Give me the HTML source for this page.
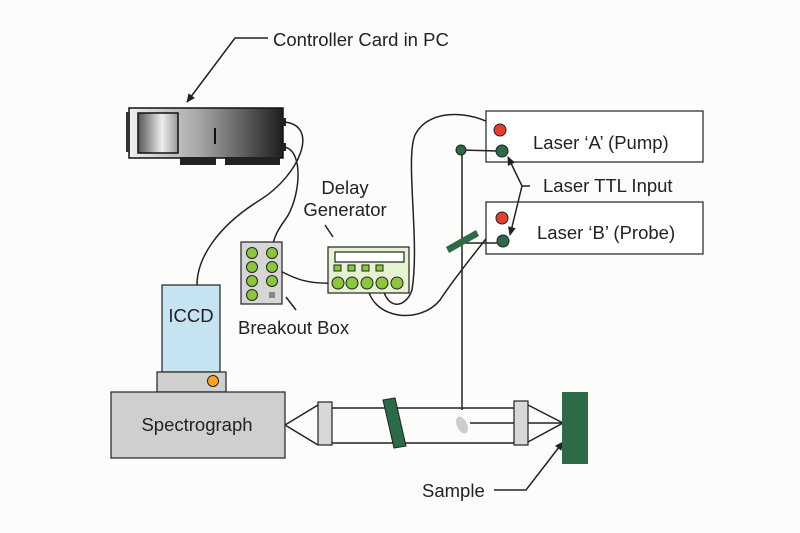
<!DOCTYPE html>
<html><head><meta charset="utf-8"><style>
html,body{margin:0;padding:0;background:#fcfcfa;}
svg{display:block;font-family:"Liberation Sans",sans-serif;}
</style></head><body>
<svg width="800" height="533" viewBox="0 0 800 533" xmlns="http://www.w3.org/2000/svg">
<defs>
<linearGradient id="card" x1="0" x2="1" y1="0" y2="0">
<stop offset="0" stop-color="#f0f0f0"/><stop offset="0.45" stop-color="#a8a8a8"/><stop offset="1" stop-color="#1e1e1e"/>
</linearGradient>
<linearGradient id="win" x1="0" x2="1"><stop offset="0" stop-color="#555"/><stop offset="0.6" stop-color="#eee"/><stop offset="1" stop-color="#999"/></linearGradient>
<marker id="ah" markerWidth="10" markerHeight="10" refX="8" refY="5" orient="auto" markerUnits="userSpaceOnUse"><path d="M0,1 L9,5 L0,9 z" fill="#222"/></marker>
</defs>
<rect width="800" height="533" fill="#fcfcfa"/>
<g fill="none" stroke="#222" stroke-width="1.5">
<path d="M268,38 L235,38 L187,102" marker-end="url(#ah)"/>
<path d="M284,122 C320,125 300,175 260,200 C215,228 197,260 197,285"/>
<path d="M284,147 C305,150 300,200 285,220 C276,232 272,242 272,253"/>
<path d="M272,267 C290,275 300,285 338,283"/>
<path d="M367,283 C370,320 420,325 440,300 C460,270 478,250 502,218"/>
<path d="M382,283 C385,310 405,310 412,290 C420,240 405,160 415,135 C430,105 480,112 500,130"/>
<path d="M462,150 L462,410"/>
<path d="M285,425 L318,405 M285,425 L318,445"/>
<path d="M332,408 L515,408 M332,443 L515,443"/>
<path d="M528,405 L563,423 L528,442"/>
<path d="M470,423 L563,423"/>
<path d="M494,490 L526,490 L563,442" marker-end="url(#ah)"/>
<path d="M325,225 L333,237"/>
<path d="M286,297 L296,310"/>
</g>
<rect x="129" y="108" width="154" height="50" fill="url(#card)" stroke="#111" stroke-width="1.5"/>
<rect x="138" y="113" width="40" height="40" fill="url(#win)" stroke="#111" stroke-width="1.5"/>
<rect x="180" y="157" width="36" height="8" fill="#222"/>
<rect x="225" y="157" width="55" height="8" fill="#222"/>
<rect x="126" y="112" width="4" height="40" fill="#333"/>
<line x1="215" y1="128" x2="215" y2="144" stroke="#111" stroke-width="2"/>
<rect x="282" y="118" width="4" height="8" fill="#222"/><rect x="282" y="143" width="4" height="8" fill="#222"/>
<rect x="241" y="242" width="41" height="62" fill="#d6d6d6" stroke="#222" stroke-width="1.2"/>
<g fill="#8cc63f" stroke="#222" stroke-width="1">
<circle cx="252" cy="253" r="5.5"/><circle cx="272" cy="253" r="5.5"/>
<circle cx="252" cy="267" r="5.5"/><circle cx="272" cy="267" r="5.5"/>
<circle cx="252" cy="281" r="5.5"/><circle cx="272" cy="281" r="5.5"/>
<circle cx="252" cy="295" r="5.5"/>
</g>
<rect x="269" y="292" width="6" height="6" fill="#888"/>
<rect x="328" y="247" width="81" height="46" fill="#e6f3d2" stroke="#222" stroke-width="1.2"/>
<rect x="335" y="252" width="69" height="10" fill="#fff" stroke="#222" stroke-width="1.2"/>
<g fill="#8cc63f" stroke="#222" stroke-width="1">
<rect x="334" y="265" width="7" height="6"/><rect x="348" y="265" width="7" height="6"/><rect x="362" y="265" width="7" height="6"/><rect x="376" y="265" width="7" height="6"/>
<circle cx="338" cy="283" r="6"/><circle cx="352" cy="283" r="6"/><circle cx="367" cy="283" r="6"/><circle cx="382" cy="283" r="6"/><circle cx="397" cy="283" r="6"/>
</g>
<rect x="162" y="285" width="58" height="87" fill="#c5e3f0" stroke="#222" stroke-width="1.2"/>
<rect x="157" y="372" width="69" height="20" fill="#d0cfcf" stroke="#222" stroke-width="1.2"/>
<circle cx="213" cy="381" r="5.5" fill="#f5a623" stroke="#222"/>
<rect x="111" y="392" width="174" height="66" fill="#d0cfcf" stroke="#222" stroke-width="1.2"/>
<rect x="318" y="402" width="14" height="43" fill="#d8d8d8" stroke="#222" stroke-width="1.2"/>
<rect x="514" y="401" width="14" height="44" fill="#d8d8d8" stroke="#222" stroke-width="1.2"/>
<polygon points="383,400 395,398 406,446 394,448" fill="#2d6a47" stroke="#222"/>
<ellipse cx="462" cy="425" rx="5" ry="9" transform="rotate(-25 462 425)" fill="#ccc"/>
<rect x="562" y="392" width="26" height="72" fill="#2d6a47"/>
<rect x="486" y="111" width="217" height="51" fill="#fff" stroke="#222" stroke-width="1.2"/>
<rect x="486" y="202" width="217" height="52" fill="#fff" stroke="#222" stroke-width="1.2"/>
<g fill="none" stroke="#222" stroke-width="1.5">
<path d="M461,150 L497,151"/>
<path d="M462,243 L498,243"/>
<path d="M530,186 L522,186 L508,157" marker-end="url(#ah)"/>
<path d="M522,186 L510,235" marker-end="url(#ah)"/>
</g>
<g stroke="#222" stroke-width="1">
<circle cx="500" cy="130" r="6" fill="#e0412f"/>
<circle cx="502" cy="151" r="6" fill="#2d6a47"/>
<circle cx="502" cy="218" r="6" fill="#e0412f"/>
<circle cx="503" cy="241" r="6" fill="#2d6a47"/>
<circle cx="461" cy="150" r="5" fill="#2d6a47"/>
</g>
<polygon points="446,247 476,230 479,236 449,253" fill="#2d6a47"/>
<g fill="#222" font-size="18.5">
<text x="273" y="46">Controller Card in PC</text>
<text x="345" y="194" text-anchor="middle">Delay</text>
<text x="345" y="216" text-anchor="middle">Generator</text>
<text x="238" y="334">Breakout Box</text>
<text x="191" y="322" text-anchor="middle">ICCD</text>
<text x="197" y="431" text-anchor="middle">Spectrograph</text>
<text x="533" y="149">Laser ‘A’ (Pump)</text>
<text x="537" y="239">Laser ‘B’ (Probe)</text>
<text x="543" y="192">Laser TTL Input</text>
<text x="422" y="497">Sample</text>
</g>
</svg>
</body></html>
